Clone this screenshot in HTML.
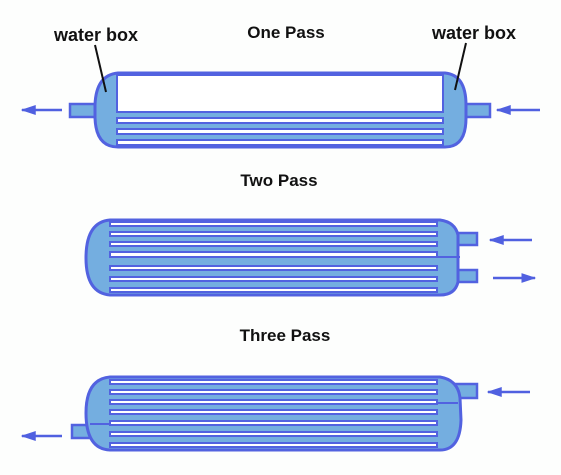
<!DOCTYPE html>
<html><head><meta charset="utf-8"><style>
html,body{margin:0;padding:0;background:#fff;}
svg{display:block;}
text{font-family:"Liberation Sans",sans-serif;font-weight:bold;fill:#111;}
</style></head><body>
<svg width="561" height="475" viewBox="0 0 561 475" xmlns="http://www.w3.org/2000/svg">
<rect width="561" height="475" fill="#fdfefd"/>
<defs>
<marker id="ah" markerWidth="6" markerHeight="4" refX="5.5" refY="2" orient="auto" markerUnits="strokeWidth"><path d="M0,0 L6,2 L0,4 Z" fill="#5060e0"/></marker>
</defs>

<!-- One pass -->
<g stroke="#5262e0" stroke-width="3" fill="#74aee0">
  <rect x="70" y="104" width="35" height="13" stroke-width="2.5"/>
  <rect x="455" y="104" width="35" height="13" stroke-width="2.5"/>
  <path d="M118,73 L445,73 Q466,75 466,105 L466,118 Q466,147 445,147 L118,147 Q96,147 95,118 L95,105 Q96,75 118,73 Z"/>
  <rect x="117" y="75" width="326" height="37" fill="#fff" stroke-width="2"/>
  <g fill="#fff" stroke-width="2">
    <rect x="117" y="118" width="326" height="5"/>
    <rect x="117" y="129" width="326" height="5"/>
    <rect x="117" y="140" width="326" height="5"/>
  </g>
</g>
<line x1="62" y1="110" x2="22" y2="110" stroke="#5060e0" stroke-width="2.5" marker-end="url(#ah)"/>
<line x1="540" y1="110" x2="497" y2="110" stroke="#5060e0" stroke-width="2.5" marker-end="url(#ah)"/>
<text x="286" y="38" font-size="17" text-anchor="middle">One Pass</text>
<text x="54" y="41" font-size="18">water box</text>
<text x="432" y="39" font-size="18">water box</text>
<line x1="95" y1="45" x2="106" y2="92" stroke="#111" stroke-width="2"/>
<line x1="466" y1="43" x2="455" y2="90" stroke="#111" stroke-width="2"/>

<!-- Two pass -->
<text x="279" y="186" font-size="17" text-anchor="middle">Two Pass</text>
<g stroke="#5262e0" stroke-width="3" fill="#74aee0">
  <rect x="450" y="233" width="27" height="12" stroke-width="2.5"/>
  <rect x="450" y="270" width="27" height="12" stroke-width="2.5"/>
  <path d="M110,220 L440,220 Q455,222 458,235 L458,282 Q455,295 440,295 L110,295 Q86,293 86,258 Q86,222 110,220 Z"/>
  <g fill="#fff" stroke-width="2">
    <rect x="110" y="222" width="327" height="4"/>
    <rect x="110" y="232" width="327" height="4"/>
    <rect x="110" y="242" width="327" height="4"/>
    <rect x="110" y="252" width="327" height="5"/>
    <rect x="110" y="266" width="327" height="4"/>
    <rect x="110" y="277" width="327" height="4"/>
    <rect x="110" y="288" width="327" height="4"/>
  </g>
  <line x1="437" y1="257" x2="460" y2="257" stroke-width="2"/>
</g>
<line x1="532" y1="240" x2="490" y2="240" stroke="#5060e0" stroke-width="2.5" marker-end="url(#ah)"/>
<line x1="493" y1="278" x2="535" y2="278" stroke="#5060e0" stroke-width="2.5" marker-end="url(#ah)"/>

<!-- Three pass -->
<text x="285" y="341" font-size="17" text-anchor="middle">Three Pass</text>
<g stroke="#5262e0" stroke-width="3" fill="#74aee0">
  <rect x="450" y="384" width="27" height="14" stroke-width="2.5"/>
  <rect x="72" y="425" width="25" height="13" stroke-width="2.5"/>
  <path d="M110,377 L440,377 Q458,380 460,398 L461,420 Q460,450 440,450 L110,450 Q86,449 86,413 Q86,379 110,377 Z"/>
  <g fill="#fff" stroke-width="2">
    <rect x="110" y="380" width="327" height="4"/>
    <rect x="110" y="390" width="327" height="4"/>
    <rect x="110" y="400" width="327" height="4"/>
    <rect x="110" y="410" width="327" height="4"/>
    <rect x="110" y="421" width="327" height="4"/>
    <rect x="110" y="432" width="327" height="4"/>
    <rect x="110" y="443" width="327" height="4"/>
  </g>
  <line x1="437" y1="403" x2="458" y2="403" stroke-width="2"/>
  <line x1="90" y1="424" x2="110" y2="424" stroke-width="2"/>
</g>
<line x1="530" y1="392" x2="488" y2="392" stroke="#5060e0" stroke-width="2.5" marker-end="url(#ah)"/>
<line x1="62" y1="436" x2="22" y2="436" stroke="#5060e0" stroke-width="2.5" marker-end="url(#ah)"/>
</svg>
</body></html>
